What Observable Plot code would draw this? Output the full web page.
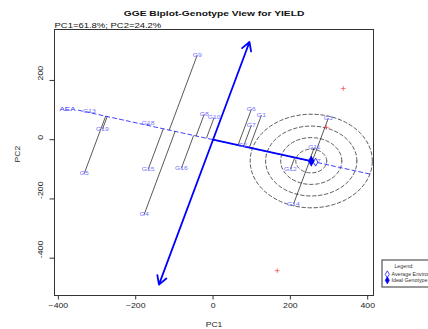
<!DOCTYPE html>
<html><head><meta charset="utf-8">
<script src="https://cdn.jsdelivr.net/npm/d3@7"></script>
<script src="https://cdn.jsdelivr.net/npm/@observablehq/plot@0.6"></script>
<style>
html,body{margin:0;padding:0;background:#fff;overflow:hidden}
#chart svg{display:block;font-family:"Liberation Sans",Arial,sans-serif}
</style>
</head><body><div id="chart"></div>
<script>
// ---- data ----
const genotypes = ["G1","G2","G3","G4","G5","G6","G7","G8","G9","G10","G11","G12","G13","G14","G15","G16","G17","G18","G19"];
const genoPC1   = [125, 76, 298, -178, -333, 99, 99, -23, -41, 3, 262, 200, -320, 208, -168, -82, 262, -168, -286];
const genoPC2   = [82, -19, 72, -252, -114, 102, 48, 85, 285, 75, -26, -100, 96, -218, -101, -97, -73, 55, 35];
const envPC1 = [337, 166, 293];
const envPC2 = [173, -442, 41.5];
const idealPoint = [254, -72];
const circleRadii = [40, 79, 118, 158];
const atcExtent = [-509, 343];   // ATC ordinate (perpendicular to AEA), along-axis extents
const aeaExtent = [-362, 425];   // AEA abscissa extents
const xTicks = [-400, -200, 0, 200, 400];
const yTicks = [200, 0, -200, -400];
const titleText = "GGE Biplot-Genotype View for YIELD";
const subtitleText = "PC1=61.8%; PC2=24.2%";
const legendTitle = "Legend:";
const legendItems = ["Average Environment", "Ideal Genotype"];

// ---- derived geometry ----
const avgEnv = [d3.mean(envPC1), d3.mean(envPC2)];
const len = Math.hypot(avgEnv[0], avgEnv[1]);
const u = [avgEnv[0] / len, avgEnv[1] / len];
const perp = [-u[1], u[0]];
const geno = genotypes.map((g, i) => {
  const x = genoPC1[i], y = genoPC2[i];
  const t = x * u[0] + y * u[1];
  return {g, x, y, fx: t * u[0], fy: t * u[1]};
});
const envs = envPC1.map((x, i) => ({x, y: envPC2[i]}));
const circles = circleRadii.flatMap((r, k) =>
  d3.range(0, 361, 4).map(a => ({k, x: idealPoint[0] + r * Math.cos(a * Math.PI / 180), y: idealPoint[1] + r * Math.sin(a * Math.PI / 180)})));
const aeaLine = aeaExtent.map(t => ({x: t * u[0], y: t * u[1]}));
const atcArrows = atcExtent.map(t => ({x1: 0, y1: 0, x2: t * perp[0], y2: t * perp[1]}));

const FONT = "Liberation Sans, Arial, sans-serif";
const svg = Plot.plot({
  width: 428, height: 329,
  marginLeft: 54, marginRight: 55, marginTop: 29, marginBottom: 34,
  x: {domain: [-410, 415]},
  y: {domain: [-526, 372]},
  style: {fontFamily: FONT, background: "#fff", overflow: "hidden"},
  marks: [
    Plot.line(circles, {x: "x", y: "y", z: "k", stroke: "#333", strokeWidth: 0.8, strokeDasharray: "3.5,2.5"}),
    Plot.line(aeaLine, {x: "x", y: "y", stroke: "#2b2bff", strokeWidth: 0.9, strokeDasharray: "4,3"}),
    Plot.link(geno, {x1: "x", y1: "y", x2: "fx", y2: "fy", stroke: "#111", strokeWidth: 0.7}),
    Plot.line([{x: 0, y: 0}, {x: idealPoint[0], y: idealPoint[1]}], {x: "x", y: "y", stroke: "blue", strokeWidth: 1.8}),
    Plot.arrow(atcArrows, {x1: "x1", y1: "y1", x2: "x2", y2: "y2", stroke: "blue", strokeWidth: 1.8, headLength: 8}),
    Plot.dot(envs, {x: "x", y: "y", symbol: "plus", r: 1.6, stroke: "#ff3b3b", strokeWidth: 0.7}),
    Plot.text(geno, {x: "x", y: "y", text: "g", fill: "#7373ff", fontSize: 5.3}),
    Plot.text([aeaLine[0]], {x: "x", y: "y", text: () => "AEA", fill: "#2b2bff", fontSize: 6.2, textAnchor: "end", dx: -3, dy: -1}),
    Plot.dot([avgEnv], {x: d => d[0], y: d => d[1], symbol: "diamond", r: 2.4, stroke: "blue", fill: "white", strokeWidth: 0.8}),
    Plot.dot([idealPoint], {x: d => d[0], y: d => d[1], symbol: "diamond", r: 3.4, fill: "blue"}),
    Plot.frame({stroke: "#333", strokeWidth: 1}),
    Plot.axisX(xTicks, {tickSize: 4.5, tickPadding: 3, fontSize: 6.8, label: null, stroke: "#333", color: "#222"}),
    Plot.axisY(yTicks, {tickSize: 4.5, tickFormat: () => "", label: null, stroke: "#333"}),
    Plot.text(yTicks, {y: d => d, text: d => String(d), frameAnchor: "left", dx: -14, rotate: -90, lineAnchor: "middle", fontSize: 6.8, fill: "#222"}),
    Plot.text(["PC1"], {frameAnchor: "bottom", dy: 29, lineAnchor: "middle", fontSize: 6.7, fill: "#222"}),
    Plot.text(["PC2"], {frameAnchor: "left", dx: -37, rotate: -90, lineAnchor: "middle", fontSize: 6.7, fill: "#222"}),
    Plot.text([titleText], {frameAnchor: "top", dy: -15.7, lineAnchor: "middle", fontSize: 8, fontWeight: "bold", fill: "#111"}),
    Plot.text([subtitleText], {frameAnchor: "top-left", dy: -3.8, lineAnchor: "middle", textAnchor: "start", fontSize: 7.4, fill: "#111"})
  ]
});
document.getElementById("chart").appendChild(svg);

// the reference is horizontally stretched: widen glyphs accordingly
d3.select(svg).selectAll("text").each(function() {
  const l = this.getComputedTextLength();
  if (l > 0) { this.setAttribute("textLength", l * 1.28); this.setAttribute("lengthAdjust", "spacingAndGlyphs"); }
});

// legend (outside the plot frame, bottom-right)
const lg = d3.select(svg).append("g").attr("font-family", FONT).attr("font-size", 5.3);
lg.append("rect").attr("x", 382).attr("y", 260).attr("width", 70).attr("height", 27)
  .attr("fill", "#fff").attr("stroke", "#555").attr("stroke-width", 1.2);
lg.append("text").attr("x", 404).attr("y", 266).attr("dy", "0.35em").attr("text-anchor", "middle").attr("fill", "#333").text(legendTitle);
const dia = d3.symbol(d3.symbolDiamond, 14);
legendItems.forEach((t, i) => {
  const yy = 274.3 + i * 6;
  lg.append("path").attr("d", dia()).attr("transform", `translate(387.3,${yy})`)
    .attr("fill", i === 0 ? "#fff" : "blue").attr("stroke", "blue").attr("stroke-width", 0.7);
  lg.append("text").attr("x", 391.5).attr("y", yy).attr("dy", "0.35em").attr("text-anchor", "start").attr("fill", "#333").text(t);
});
</script>
</body></html>
